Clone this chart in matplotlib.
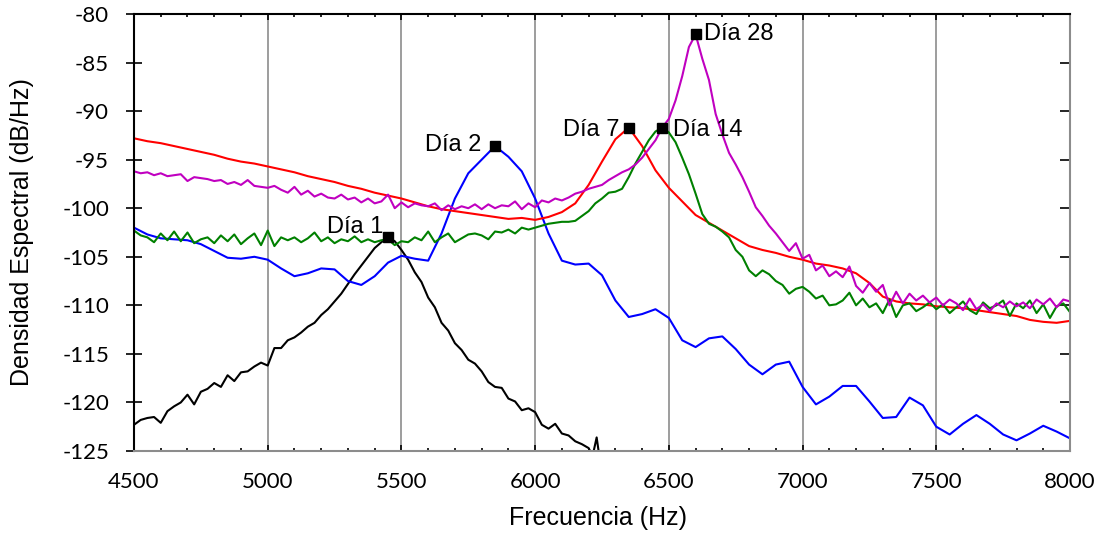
import numpy as np
import matplotlib.pyplot as plt
from matplotlib.ticker import MultipleLocator


# Parms
FONT = 'Liberation Sans'
TICK_FONT = 'Lato'
LW = 1.5
plt.rcParams['axes.unicode_minus'] = False

# densidad espectral (dB/Hz), leida de la figura
# dia 1 / dia 14 / dia 28 cada 25 Hz desde 4500, dia 2 / dia 7 cada 50 Hz
dia1_db = [
    -122.3, -121.8, -121.6, -121.5, -122.1, -120.9, -120.4, -120.0, -119.2, -120.2,
    -118.9, -118.6, -118.0, -118.4, -117.2, -117.8, -116.9, -116.8, -116.3, -115.9,
    -116.2, -114.4, -114.4, -113.6, -113.3, -112.8, -112.2, -111.8, -111.0, -110.4,
    -109.6, -108.8, -107.8, -106.8, -105.9, -105.0, -104.1, -103.5, -103.0, -103.4,
    -104.3, -105.3, -106.6, -107.6, -109.2, -110.2, -111.8, -112.6, -113.9, -114.6,
    -115.6, -116.0, -116.8, -117.9, -118.4, -118.5, -119.6, -119.9, -120.8, -120.6,
    -121.0, -122.3, -122.7, -122.2, -123.2, -123.4, -124.0, -124.3, -124.7,
]
dia1_tail_hz = [6215, 6230, 6245]
dia1_tail_db = [-125.5, -123.6, -126.5]

dia2_db = [
    -102.0, -102.7, -103.1, -103.2, -103.3, -103.7, -104.4, -105.1, -105.2, -105.0, -105.3,
    -106.2, -107.0, -106.7, -106.2, -106.3, -107.5, -107.9, -107.0, -105.6, -104.9,
    -105.2, -105.4, -102.6, -99.0, -96.4, -95.0, -93.6, -94.7, -96.2, -99.0,
    -102.6, -105.4, -105.8, -105.7, -106.9, -109.5, -111.2, -110.9, -110.4, -111.3,
    -113.6, -114.3, -113.4, -113.2, -114.5, -116.1, -117.1, -116.1, -115.8, -118.4,
    -120.2, -119.4, -118.3, -118.3, -119.9, -121.6, -121.5, -119.5, -120.3, -122.5,
    -123.3, -122.2, -121.3, -122.2, -123.3, -123.9, -123.2, -122.4, -123.0, -123.7,
]

dia7_db = [
    -92.8, -93.1, -93.3, -93.6, -93.9, -94.2, -94.5, -94.9, -95.2, -95.4, -95.7,
    -96.0, -96.3, -96.7, -97.0, -97.3, -97.7, -98.0, -98.4, -98.7, -99.0,
    -99.4, -99.8, -100.1, -100.3, -100.5, -100.7, -100.9, -101.1, -101.0, -101.2,
    -100.9, -100.4, -99.5, -97.6, -95.2, -92.9, -91.7, -93.6, -96.1, -97.9,
    -99.3, -100.7, -101.5, -102.3, -103.1, -103.9, -104.3, -104.6, -105.0, -105.3,
    -105.7, -105.9, -106.2, -106.7, -107.7, -109.1, -109.6, -109.8, -109.9, -110.1,
    -110.2, -110.3, -110.5, -110.7, -110.9, -111.1, -111.5, -111.7, -111.8, -111.6,
]

dia14_db = [
    -102.3, -102.8, -103.0, -103.5, -102.6, -103.3, -102.4, -103.4, -102.5, -103.6,
    -103.2, -103.0, -103.6, -102.8, -103.4, -102.7, -103.7, -103.1, -102.6, -103.8,
    -102.3, -103.9, -103.0, -103.3, -103.0, -103.5, -103.1, -102.5, -103.4, -103.0,
    -103.6, -103.2, -103.4, -102.9, -103.5, -103.2, -103.5, -103.3, -103.2, -103.8,
    -103.4, -103.5, -103.0, -103.3, -102.4, -103.5, -103.0, -102.6, -103.5, -103.1,
    -102.7, -102.6, -102.8, -103.2, -102.4, -102.5, -102.2, -102.6, -102.0, -102.2,
    -102.0, -101.8, -101.6, -101.5, -101.4, -101.4, -101.3, -100.8, -100.3, -99.5,
    -99.0, -98.4, -98.3, -98.0, -96.8, -95.4, -94.2, -93.0, -92.1, -91.7,
    -92.2, -93.2, -94.8, -96.5, -98.5, -100.6, -101.6, -101.9, -102.4, -103.0,
    -104.3, -105.0, -106.4, -107.0, -106.4, -106.8, -107.5, -107.9, -108.8, -108.3,
    -108.1, -108.6, -109.3, -109.0, -110.0, -109.9, -109.5, -108.7, -110.0, -109.3,
    -110.2, -109.8, -110.8, -109.4, -111.2, -110.0, -109.8, -110.6, -110.2, -109.7,
    -110.4, -109.9, -110.8, -110.2, -109.6, -110.5, -110.9, -109.7, -110.3, -110.0,
    -109.5, -111.1, -109.8, -110.3, -109.5, -110.8, -109.9, -111.3, -110.1, -109.8,
    -110.7,
]

dia28_db = [
    -96.2, -96.4, -96.3, -96.6, -96.4, -96.7, -96.6, -96.5, -97.2, -96.8,
    -96.9, -97.0, -97.2, -97.1, -97.5, -97.3, -97.6, -97.1, -97.7, -97.8,
    -97.9, -97.7, -98.1, -98.4, -97.8, -98.6, -98.2, -98.8, -98.5, -98.9,
    -99.0, -98.6, -99.1, -98.9, -99.4, -99.0, -99.5, -99.3, -98.6, -100.0,
    -99.4, -99.9, -99.5, -99.7, -99.8, -99.5, -100.2, -99.7, -100.1, -99.8,
    -100.0, -99.6, -100.1, -99.6, -100.0, -99.7, -99.8, -99.3, -100.1, -99.5,
    -99.9, -99.2, -99.4, -99.0, -99.2, -98.9, -98.5, -98.3, -98.0, -97.8,
    -97.6, -97.1, -96.7, -96.3, -96.0, -95.5, -94.8, -93.9, -93.0, -91.7,
    -90.8, -88.9, -86.4, -83.4, -82.1, -84.6, -86.8, -90.3, -92.4, -94.3,
    -95.5, -96.8, -98.3, -99.9, -100.8, -101.8, -102.6, -103.5, -104.4, -103.6,
    -105.2, -104.8, -106.4, -105.9, -107.0, -106.5, -107.1, -106.0, -108.0, -108.7,
    -107.7, -108.6, -107.9, -110.0, -108.6, -109.8, -108.8, -109.5, -109.0, -109.7,
    -109.2, -110.0, -109.4, -109.8, -110.5, -109.3, -110.4, -109.9, -110.6, -109.8,
    -110.2, -109.6, -110.1, -109.7, -110.3, -109.4, -109.9, -109.3, -110.2, -109.4,
    -109.6,
]

labels = ['Día 1', 'Día 2', 'Día 7', 'Día 14', 'Día 28']
colors = ['black', '#0000ff', '#ff0000', '#008000', '#c000c0']
# posicion del texto respecto al marcador (pt)
label_ha = ['right', 'right', 'right', 'left', 'left']
label_off = [(-3.5, 3), (-10, -3.6), (-6.5, -6), (7.5, -6), (6.3, -4.3)]


def grid_hz(vals, step):
    return 4500 + step * np.arange(len(vals))


series = [
    (np.concatenate([grid_hz(dia1_db, 25), dia1_tail_hz]), np.array(dia1_db + dia1_tail_db)),
    (grid_hz(dia2_db, 50), np.array(dia2_db)),
    (grid_hz(dia7_db, 50), np.array(dia7_db)),
    (grid_hz(dia14_db, 25), np.array(dia14_db)),
    (grid_hz(dia28_db, 25), np.array(dia28_db)),
]

fig = plt.figure(figsize=(11.03, 5.41), dpi=100)
ax = fig.add_axes([134 / 1103, 1 - 451 / 541, 936 / 1103, 437 / 541])

for xv in range(5000, 8000, 500):
    ax.axvline(xv, color='#8c8c8c', lw=1.2, zorder=1)

for (hz, db), c in zip(series, colors):
    ax.plot(hz, db, color=c, lw=LW, zorder=2)

for (hz, db), lab, ha, off in zip(series, labels, label_ha, label_off):
    i = db.argmax()
    ax.plot(hz[i], db[i], 's', color='black', ms=7, zorder=4)
    ax.annotate(lab, (hz[i], db[i]), xytext=off, textcoords='offset points',
                ha=ha, va='baseline', fontsize=17, family=FONT, zorder=5)

ax.set_xlim(4500, 8000)
ax.set_ylim(-125, -80)
ax.xaxis.set_major_locator(MultipleLocator(500))
ax.xaxis.set_minor_locator(MultipleLocator(100))
ax.yaxis.set_major_locator(MultipleLocator(5))

ax.tick_params(axis='x', which='major', direction='in', top=True, length=4.5,
               width=1.2, pad=15, labelsize=16)
ax.tick_params(axis='x', which='minor', direction='in', top=True, length=2.5, width=1.2)
ax.tick_params(axis='y', which='major', direction='inout', length=12, width=1.2,
               pad=12, labelsize=16)
for t in ax.get_xticklabels() + ax.get_yticklabels():
    t.set_family(TICK_FONT)

# ticks del lado derecho hacia adentro
ax2 = ax.secondary_yaxis('right')
ax2.yaxis.set_major_locator(MultipleLocator(5))
ax2.tick_params(direction='in', length=7, width=1.2, labelright=False)
ax2.spines['right'].set_visible(False)

for s in ['left', 'top']:
    ax.spines[s].set_color('black')
    ax.spines[s].set_linewidth(1.5)
for s in ['bottom', 'right']:
    ax.spines[s].set_color('#8c8c8c')
    ax.spines[s].set_linewidth(1.5)

ax.set_xlabel('Frecuencia (Hz)', fontsize=18, family=FONT)
ax.set_ylabel('Densidad Espectral (dB/Hz)', fontsize=18, family=FONT)
ax.xaxis.set_label_coords(0.496, -0.125)
ax.yaxis.set_label_coords(-0.107, 0.5)

fig.savefig('out.png', dpi=100)
